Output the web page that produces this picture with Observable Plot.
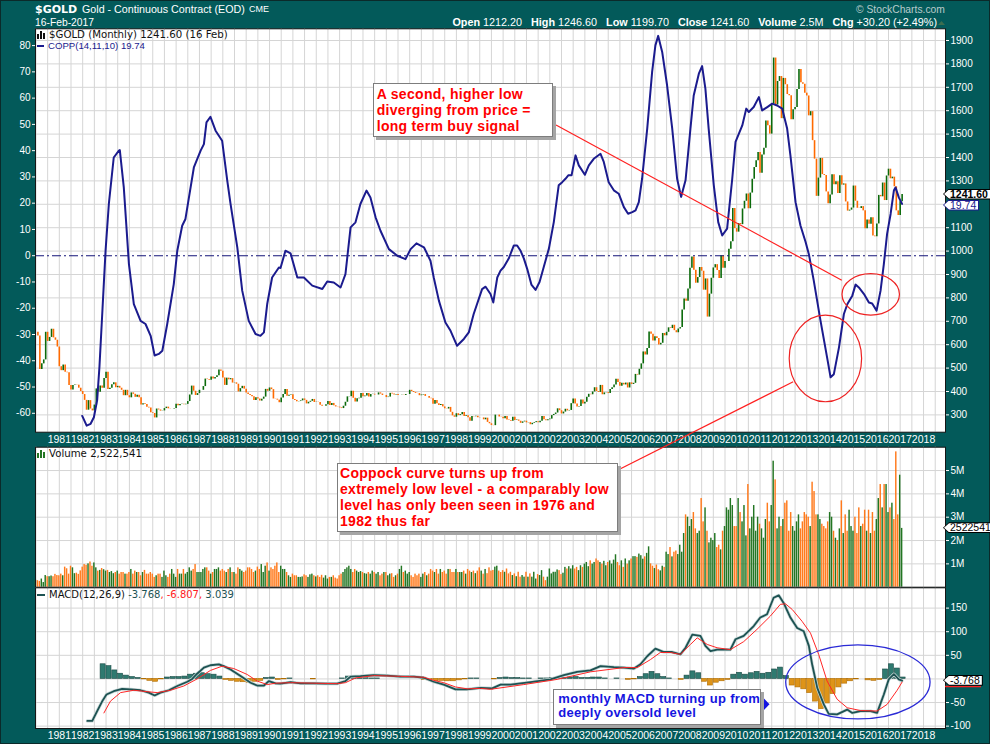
<!DOCTYPE html>
<html><head><meta charset="utf-8">
<script src="https://cdn.jsdelivr.net/npm/d3@7"></script>
<script src="https://cdn.jsdelivr.net/npm/@observablehq/plot@0.6"></script>
<style>
body{margin:0;background:#035a5a;}
#root{position:relative;width:990px;height:744px;background:#035a5a;overflow:hidden;font-family:"Liberation Sans",Arial,sans-serif;box-shadow:inset 0 0 0 1px #0b2a2a;}
#root > svg{position:absolute;left:0;top:0;}
.abs{position:absolute;white-space:nowrap;line-height:1;}
.note{position:absolute;box-sizing:border-box;background:#fff;border:1px solid #7d7d7d;box-shadow:3px 3px 0 #a5a5a5;font-weight:bold;white-space:nowrap;letter-spacing:0.3px;}
</style></head>
<body><div id="root"></div>
<script>
// ---------------- DATA ----------------
// Monthly closes of $GOLD, Jan 1980 .. Feb 2017
const closes = [
653,637,494,518,535,653,614,631,666,629,619,590,
506,489,513,482,480,426,406,426,428,427,414,400,
387,362,320,361,325,317,342,411,397,423,414,456,
482,408,414,429,437,416,422,414,405,382,405,382,
373,394,388,375,384,373,342,348,344,333,329,309,
306,287,325,321,316,317,327,333,326,325,325,327,
345,339,344,345,343,345,357,385,423,401,383,391,
405,405,421,453,451,448,462,453,460,467,492,486,
458,426,457,450,455,436,437,431,398,412,422,410,
394,387,383,378,362,373,368,359,367,376,409,401,
415,408,368,367,363,352,372,387,408,380,384,386,
366,362,356,357,360,368,362,347,354,358,366,353,
354,353,341,337,337,343,357,340,349,339,334,333,
330,327,337,354,377,378,401,371,355,369,371,391,
377,381,391,376,387,388,385,385,394,389,383,383,
374,376,392,389,385,387,383,383,384,383,387,387,
405,400,396,392,391,382,385,387,379,379,371,369,
345,362,348,340,344,334,326,325,332,311,296,290,
305,297,301,310,293,296,288,273,293,292,294,288,
287,287,279,286,268,262,255,254,299,299,291,290,
283,293,278,276,273,290,276,278,273,264,270,273,
266,267,258,264,267,271,266,273,293,279,275,279,
282,297,302,308,326,318,304,312,324,317,319,348,
368,347,334,336,364,346,354,375,388,386,398,416,
400,396,426,386,394,395,391,408,416,428,452,438,
422,435,428,436,415,437,430,435,473,470,495,518,
569,556,584,654,645,616,634,626,599,606,648,638,
653,672,669,683,660,651,667,673,748,795,786,838,
927,975,918,863,887,930,914,833,881,718,816,884,
928,942,917,883,980,927,955,955,1008,1040,1182,1096,
1081,1118,1113,1180,1213,1244,1181,1248,1307,1357,1386,1421,
1333,1411,1439,1556,1536,1500,1628,1825,1624,1725,1746,1566,
1738,1711,1669,1664,1561,1604,1614,1691,1776,1719,1713,1675,
1663,1578,1596,1472,1393,1234,1312,1396,1327,1323,1253,1202,
1240,1326,1284,1296,1246,1322,1282,1287,1210,1171,1175,1184,
1278,1213,1183,1182,1190,1172,1095,1133,1115,1142,1065,1061,
1116,1238,1232,1291,1216,1321,1350,1309,1316,1275,1172,1152,
1211.4,1241.6];
const firstMonth = 1980; // Jan 1980

// Monthly volume, millions of contracts
const volumeM = [
0.3,0.28,0.25,0.35,0.2,0.5,0.45,0.45,0.48,0.45,0.55,0.5,
0.49,0.56,0.49,0.86,0.79,0.56,0.9,0.83,0.58,0.6,0.55,0.7,
0.86,0.97,0.94,1.0,1.08,0.9,1.04,0.83,0.69,0.72,0.8,0.75,
0.69,0.72,0.63,0.67,0.58,0.63,0.69,0.56,0.63,0.63,0.56,0.56,
0.63,0.76,0.56,0.69,0.63,0.63,0.49,0.63,0.72,0.56,0.56,0.63,
0.56,0.42,0.49,0.56,0.56,0.42,0.69,0.49,0.42,0.56,0.76,0.56,
0.42,0.76,0.56,0.56,0.76,0.56,0.63,0.83,0.69,0.76,0.97,0.63,
0.63,0.63,0.76,0.83,0.83,0.69,0.56,0.63,0.76,0.76,0.83,0.69,
0.76,0.69,0.63,0.76,0.83,0.63,0.63,0.56,0.83,0.76,0.69,0.63,
0.69,0.83,0.83,0.76,0.63,0.69,0.86,0.76,0.97,0.63,0.9,1.04,
0.69,0.83,0.76,0.9,1.04,0.63,0.9,0.76,0.76,0.63,0.49,0.42,
0.56,0.49,0.49,0.42,0.42,0.44,0.53,0.49,0.42,0.53,0.56,0.49,
0.44,0.49,0.42,0.51,0.39,0.49,0.35,0.42,0.42,0.49,0.39,0.35,
0.49,0.56,0.63,0.76,0.83,0.9,0.76,0.63,0.76,0.69,0.63,0.67,
0.63,0.58,0.56,0.63,0.56,0.69,0.63,0.56,0.63,0.49,0.56,0.63,
0.63,0.49,0.56,0.58,0.42,0.49,0.56,0.76,0.9,0.63,0.69,0.56,
0.63,0.49,0.42,0.56,0.49,0.56,0.42,0.56,0.63,0.49,0.56,0.76,
0.69,0.63,0.76,0.56,0.76,0.63,0.69,0.56,0.76,0.76,0.63,0.63,
0.76,0.63,0.63,0.63,0.69,0.56,0.76,0.69,0.63,0.69,0.58,0.69,
0.83,0.69,0.56,0.76,0.58,0.83,0.69,0.72,0.86,0.9,0.69,0.63,
0.71,0.64,0.78,0.57,0.64,0.5,0.57,0.45,0.64,0.43,0.5,0.43,
0.64,0.43,0.57,0.43,0.64,0.35,0.54,0.5,0.71,0.43,0.28,0.43,
0.78,0.57,0.64,0.64,0.74,0.71,0.54,0.6,0.85,0.78,0.88,0.78,
0.92,0.78,0.85,0.71,0.92,0.85,0.99,1.06,0.88,1.13,0.99,1.06,
1.21,1.13,1.06,0.99,1.11,0.92,1.06,1.13,0.99,1.16,1.39,1.06,
0.92,1.13,0.85,1.21,0.99,1.13,1.21,1.31,1.31,1.28,1.42,1.35,
1.2,1.3,1.45,1.73,1.0,0.9,0.8,0.95,0.75,0.7,0.9,0.85,
1.5,1.4,1.7,1.3,1.5,1.55,1.4,1.8,1.5,2.3,3.1,3.0,
2.6,2.9,3.2,2.5,2.3,2.4,3.8,2.8,3.4,2.4,1.9,2.1,
2.0,2.3,1.7,1.8,1.6,2.4,2.6,3.4,3.3,3.8,3.5,2.6,
2.6,3.8,3.2,2.8,3.5,2.2,4.4,2.5,3.0,3.5,2.4,3.0,
2.7,2.5,2.1,2.9,3.6,2.8,3.5,5.4,4.6,2.5,3.0,2.6,
2.9,3.6,3.7,2.4,3.2,2.6,2.4,2.8,3.1,2.5,2.8,3.2,
3.1,3.0,2.6,4.5,4.1,3.1,3.1,2.9,2.7,2.6,2.5,2.8,
3.2,3.0,2.4,2.1,2.0,2.5,3.7,2.3,3.1,2.4,3.3,2.6,
2.4,3.0,2.3,3.4,2.6,2.7,3.3,2.4,3.3,2.3,3.2,2.4,
2.9,3.8,4.4,3.4,4.4,4.4,3.2,3.4,3.6,2.9,5.8,3.1,
4.8,2.52];

// Coppock curve COPP(14,11,10): [decimal year, value]
const coppock = [
[1981.98,-61],[1982.17,-64.7],[1982.34,-64],[1982.48,-61.5],[1982.62,-55],[1982.72,-42],[1982.85,-20],[1982.98,2],
[1983.12,19.7],[1983.33,37.4],[1983.55,40],[1983.59,40.2],[1983.76,26],[1983.98,-3.2],[1984.19,-18.4],[1984.48,-24.8],
[1984.69,-26],[1984.91,-30.5],[1985.08,-38],[1985.26,-37.4],[1985.41,-36.2],[1985.62,-26],[1985.90,-10.8],[1986.05,1.9],
[1986.26,11.4],[1986.40,14],[1986.55,22.2],[1986.76,33.6],[1987.05,40],[1987.19,42.5],[1987.30,50.8],[1987.47,52.9],
[1987.69,47.6],[1987.97,43.8],[1988.19,28.6],[1988.33,19.7],[1988.62,3.2],[1988.83,-13.3],[1989.11,-24.8],[1989.40,-29.8],
[1989.61,-30.5],[1989.76,-29.2],[1989.90,-18.4],[1990.11,-8.3],[1990.40,-4.5],[1990.47,-4.7],[1990.68,1.9],[1990.90,0.9],
[1991.19,-8.3],[1991.47,-8.3],[1991.83,-11.4],[1992.26,-12.7],[1992.47,-9.8],[1992.75,-10.2],[1993.04,-12.1],[1993.25,-7],
[1993.47,10.8],[1993.68,12.7],[1993.89,19.7],[1994.15,24.8],[1994.32,22.2],[1994.54,14.6],[1994.75,9.5],[1995.11,2.5],
[1995.47,0],[1995.82,-1.3],[1996.04,2.5],[1996.29,4.7],[1996.61,3.2],[1996.89,-1.9],[1997.03,-8.3],[1997.25,-17.1],
[1997.53,-25.4],[1997.75,-28.6],[1998.03,-34.3],[1998.32,-31.7],[1998.53,-29.2],[1998.74,-22.2],[1999.10,-12.7],[1999.25,-11.8],
[1999.46,-14.6],[1999.58,-17.8],[1999.75,-8.3],[1999.89,-5.7],[2000.03,-4.3],[2000.24,-1.1],[2000.46,3.9],[2000.60,3.9],
[2000.74,2],[2000.89,-1.1],[2001.03,-5],[2001.21,-11],[2001.39,-13],[2001.56,-10],[2001.74,-4.3],[2001.96,2.7],
[2002.17,12.8],[2002.38,26.8],[2002.53,28],[2002.67,29.3],[2002.79,30.6],[2002.93,30.6],[2003.10,38.2],[2003.24,34.4],
[2003.50,30.8],[2003.67,34.4],[2003.88,36.9],[2004.17,38.8],[2004.31,35.7],[2004.52,28],[2004.74,24.9],[2004.95,23.6],
[2005.17,18.5],[2005.35,16],[2005.53,16.6],[2005.67,17.3],[2005.81,20.4],[2005.95,29.3],[2006.17,48.4],[2006.38,70],
[2006.52,80.1],[2006.64,83.7],[2006.81,77.6],[2007.02,64.9],[2007.24,48.4],[2007.45,29.3],[2007.62,22.4],[2007.81,28.7],
[2008.02,48.4],[2008.16,61],[2008.38,69.3],[2008.52,72.2],[2008.66,63.6],[2008.80,48.4],[2009.02,26.8],[2009.21,12.8],
[2009.38,7.7],[2009.59,10.3],[2009.81,29.3],[2009.95,43.3],[2010.24,49.6],[2010.41,56],[2010.52,54.7],[2010.73,56.6],
[2010.95,60.4],[2011.09,55.3],[2011.31,56.6],[2011.52,57.9],[2011.73,57.2],[2011.95,56],[2012.16,48.4],[2012.30,38.2],
[2012.52,20.4],[2012.73,11.5],[2012.95,5.2],[2013.09,0.6],[2013.30,-9.5],[2013.59,-24.8],[2013.87,-38.7],[2014.02,-46.3],
[2014.16,-45.1],[2014.38,-34.9],[2014.59,-22.2],[2014.74,-18.4],[2014.95,-15.2],[2015.09,-11],[2015.23,-12.1],[2015.45,-14.6],
[2015.66,-17.8],[2015.80,-18.2],[2015.99,-20.9],[2016.16,-13.3],[2016.30,-3.2],[2016.44,8.3],[2016.59,15.9],[2016.73,24.8],
[2016.80,26],[2016.94,22.2],[2017.08,19.74]];

// MACD(12,26,9) line: [decimal year, value]
const macdLine = [
[1982.20,-89],[1982.41,-89],[1982.62,-68],[1982.84,-47],[1983.02,-33],[1983.33,-26],[1983.69,-21],[1984.05,-22],[1984.48,-24],
[1984.83,-29],[1985.08,-35],[1985.33,-29],[1985.69,-24],[1986.05,-15],[1986.48,-6],[1986.69,0],[1986.90,11],[1987.19,24],
[1987.47,29],[1987.83,31],[1988.04,27],[1988.33,20],[1988.76,6],[1989.19,-8],[1989.47,-14],[1989.76,-14],[1989.97,-4.5],
[1990.26,-9.5],[1990.47,-10],[1990.90,-7],[1991.33,-9.5],[1991.90,-9.5],[1992.40,-10],[1992.90,-10],[1993.25,-4.5],[1993.47,5],
[1993.89,6],[1994.46,8],[1995.04,7],[1995.61,5],[1996.18,5],[1996.61,2.5],[1997.03,-6],[1997.46,-12],[1997.96,-22],
[1998.46,-22],[1999.03,-19],[1999.53,-20],[1999.89,-12],[2000.32,-12],[2001.17,-7],[2002.03,-1],[2002.60,8],[2003.17,15],
[2003.74,18],[2004.17,27],[2004.74,25],[2005.17,24],[2005.60,22],[2005.88,31],[2006.17,48],[2006.52,64],[2006.88,57],
[2007.24,57],[2007.59,52],[2007.81,66],[2008.10,94],[2008.45,91],[2008.66,70],[2008.88,59],[2009.16,62],[2009.73,62],
[2009.95,84],[2010.30,91],[2010.73,112],[2011.01,130],[2011.30,137],[2011.58,172],[2011.80,177],[2012.01,161],[2012.30,130],
[2012.59,108],[2012.87,101],[2013.09,70],[2013.23,31],[2013.45,-19],[2013.73,-54],[2013.94,-74],[2014.30,-75],[2014.73,-65],
[2014.95,-72],[2015.30,-68],[2015.73,-68],[2016.01,-72],[2016.30,-33],[2016.51,-1],[2016.73,10],[2016.94,-1],[2017.08,-3.768]];

// MACD signal line: [decimal year, value]
const macdSignal = [
[1982.91,-72],[1983.19,-47],[1983.62,-29],[1984.19,-24],[1984.76,-27],[1985.19,-29],[1985.76,-24],[1986.33,-15],[1986.90,0],
[1987.47,18],[1987.97,27],[1988.47,22],[1989.04,9.5],[1989.47,-4.5],[1989.90,-12],[1990.26,-9],[1990.90,-8],[1991.90,-9],
[1992.90,-10],[1993.25,-8],[1993.68,2],[1994.46,7],[1995.61,5.5],[1996.61,3.5],[1997.03,-3],[1997.46,-8],[1997.96,-17],
[1998.46,-21],[1999.03,-20],[1999.46,-22],[2000.88,-12],[2002.31,-1],[2003.74,15],[2005.17,24],[2005.74,24],[2006.31,41],
[2006.73,56],[2007.16,56],[2007.59,52],[2008.02,73],[2008.31,87],[2008.74,73],[2009.16,66],[2009.73,62],[2010.30,79],
[2010.87,105],[2011.44,133],[2011.87,158],[2012.09,159],[2012.38,147],[2012.80,122],[2013.16,97],[2013.51,52],[2013.87,-4.5],
[2014.30,-43],[2014.73,-61],[2015.30,-67],[2016.01,-68],[2016.44,-54],[2016.87,-24],[2017.08,-6.807]];

// MACD histogram, one value per quarter starting Q4 1982
const histStart = 1982.75;
const histQ = [31,27,18,11,7,4,2,-1,-4,-6,-1,3,4,4,5,9,11,12,10,9,5,-2,-4,-6,-7,-8,-6,-4,2,3,-2,-1,1,0,0,0,-1,0,0,0,0,1,5,6,3,2,1,1,0,0,0,0,0,0,0,-2,-4,-5,-4,-5,-5,-3,-1,1,1,0,0,-1,2,3,2,2,1,1,0,1,1,2,3,2,3,4,2,2,3,3,1,0,1,0,-2,-1,4,10,15,10,4,1,0,-2,7,16,12,-6,-14,-8,-5,-2,9,13,9,12,15,11,13,20,24,6,-14,-18,-22,-30,-48,-64,-52,-32,-18,-10,-5,-1,0,-3,-4,-2,20,31,22,3];

// Tick values (grid) and the tick labels that are visible
const yearTicks = [1981,1982,1983,1984,1985,1986,1987,1988,1989,1990,1991,1992,1993,1994,1995,1996,1997,1998,1999,2000,2001,2002,2003,2004,2005,2006,2007,2008,2009,2010,2011,2012,2013,2014,2015,2016,2017,2018];
const priceTicks = [300,400,500,600,700,800,900,1000,1100,1200,1300,1400,1500,1600,1700,1800,1900];
const priceLabels = [300,400,500,600,700,800,900,1000,1100,1300,1400,1500,1600,1700,1800,1900]; // 1200 hidden behind value tag
const coppTicks = [-60,-50,-40,-30,-20,-10,0,10,20,30,40,50,60,70,80];
const volTicks = [1,2,3,4,5];
const macdTicks = [-100,-50,0,50,100,150];
const macdLabels = [-100,-50,50,100,150]; // 0 hidden behind value tag
const lastValues = {price:1241.60, copp:19.74, volume:2522541, macd:-3.768, signal:-6.807, hist:3.039};

// ---------------- BUILD ----------------
const W = 990, H = 744;
const FONT = "'Liberation Sans', Arial, sans-serif";
const GRID = "#d5d5d5";
const bars = closes.map((c, i) => {
  const o = i ? closes[i - 1] : c;
  const up = c >= o;
  return {t: firstMonth + i / 12, open: o, close: c, vol: volumeM[i],
          col: up ? "#0b6a0b" : "#ff6a00", vfill: up ? "#237623" : "#ff7a1c"};
});
const gridT = d3.range(1980, 2019, 0.5);
const copp = coppock.map(([t, v]) => ({t, v}));
const macd = macdLine.map(([t, v]) => ({t, v}));
const sig = macdSignal.map(([t, v]) => ({t, v}));
const hist = histQ.map((v, i) => ({t: histStart + i * 0.25, v}));

const xDom = [1979.98, 2018.94];
function make(mt, mb, yDom, marks, xAxis = false) {
  return Plot.plot({
    width: W, height: H, marginLeft: 35, marginRight: 45, marginTop: mt, marginBottom: mb,
    x: xAxis ? {domain: xDom} : {domain: xDom, axis: null},
    y: {domain: yDom},
    color: {type: "identity"},
    style: {background: "transparent", color: "#fff", fontFamily: FONT, fontSize: "10px", overflow: "visible"},
    marks
  });
}
const axOpt = {tickSize: 3, tickPadding: 2, tickFormat: d => String(d), fontSize: 10, label: null};
const root = document.getElementById("root");

// main price panel
const pricePlot = make(28.3, H - 431.7, [226, 1950], [
  Plot.frame({fill: "#fff"}),
  Plot.ruleX(gridT, {stroke: GRID}),
  Plot.ruleY(priceTicks, {stroke: GRID}),
  Plot.ruleX(bars, {x: "t", y1: "open", y2: "close", stroke: "col", strokeWidth: 1.6}),
  Plot.axisY(priceLabels, {...axOpt, anchor: "right"}),
  Plot.axisX(yearTicks, {anchor: "bottom", tickSize: 0, tickPadding: 3, tickFormat: d => String(d), fontSize: 10.5, label: null})
], true);
root.appendChild(pricePlot);

// Coppock overlay on main panel (left axis)
const coppPlot = make(28.3, H - 431.7, [-67.2, 86.4], [
  Plot.ruleY([0], {stroke: "#14147a", strokeWidth: 1.1, strokeDasharray: "9,3,2,3"}),
  Plot.line(copp, {x: "t", y: "v", stroke: "#1b1b8e", strokeWidth: 2}),
  Plot.axisY(coppTicks, {...axOpt, anchor: "left"}),
  Plot.frame({stroke: "#161616"})
]);
root.appendChild(coppPlot);

// volume panel
const volPlot = make(446.7, H - 586.7, [0, 6.0], [
  Plot.frame({fill: "#fff"}),
  Plot.ruleX(gridT, {stroke: GRID}),
  Plot.ruleY(volTicks, {stroke: GRID}),
  Plot.rectY(bars, {x1: d => d.t - 1 / 24, x2: d => d.t + 1 / 24, y: "vol", fill: "vfill", insetLeft: 0.25, insetRight: 0.25}),
  Plot.axisY(volTicks, {...axOpt, anchor: "right", tickFormat: d => d + "M"}),
  Plot.frame({stroke: "#161616"})
]);
root.appendChild(volPlot);

// MACD panel
const macdPlot = make(587.3, 16, [-105, 193], [
  Plot.frame({fill: "#fff"}),
  Plot.ruleX(gridT, {stroke: GRID}),
  Plot.ruleY(macdTicks, {stroke: GRID}),
  Plot.rectY(hist, {x1: "t", x2: d => d.t + 0.25, y: "v", insetLeft: 0.4, insetRight: 0.4,
    fill: d => d.v >= 0 ? "#2f7a70" : "#de9419", stroke: d => d.v >= 0 ? "#1a4a45" : "#b06c00", strokeWidth: 0.6}),
  Plot.line(macd, {x: "t", y: "v", stroke: "#c6d6d6", strokeWidth: 3.2}),
  Plot.line(macd, {x: "t", y: "v", stroke: "#1d5252", strokeWidth: 1.8}),
  Plot.line(sig, {x: "t", y: "v", stroke: "#ff2626", strokeWidth: 1}),
  Plot.axisY(macdLabels, {...axOpt, anchor: "right"}),
  Plot.axisX(yearTicks, {anchor: "bottom", tickSize: 0, tickPadding: 3, tickFormat: d => String(d), fontSize: 10.5, label: null}),
  Plot.frame({stroke: "#161616"})
], true);
root.appendChild(macdPlot);

// ---------------- ANNOTATIONS ----------------
const sx = coppPlot.scale("x"), sy = coppPlot.scale("y");
const mx = macdPlot.scale("x"), my = macdPlot.scale("y");
const X = v => sx.apply(v), Y = v => sy.apply(v);
const MX = v => mx.apply(v), MY = v => my.apply(v);
const ov = d3.select(root).append("svg").attr("width", W).attr("height", H);
ov.append("line").attr("x1", 556).attr("y1", 125).attr("x2", X(2014.52)).attr("y2", Y(-9.5))
  .attr("stroke", "#ff2020").attr("stroke-width", 1.2);
ov.append("line").attr("x1", X(2012.44)).attr("y1", Y(-48.2)).attr("x2", 618).attr("y2", 470)
  .attr("stroke", "#ff2020").attr("stroke-width", 1.2);
function ellipse(cxv, cyv, rt, rv, fx, fy, col, w) {
  ov.append("ellipse").attr("cx", fx(cxv)).attr("cy", fy(cyv))
    .attr("rx", Math.abs(fx(cxv + rt) - fx(cxv))).attr("ry", Math.abs(fy(cyv + rv) - fy(cyv)))
    .attr("fill", "none").attr("stroke", col).attr("stroke-width", w);
}
ellipse(2015.76, -14.9, 1.23, 7.9, X, Y, "#ee2222", 1.2);
ellipse(2013.82, -39.3, 1.55, 16.5, X, Y, "#ee2222", 1.2);
ellipse(2015.21, -7.4, 3.09, 78.4, MX, MY, "#2a2ad6", 1.3);
ov.append("polygon").attr("points", "763,697.5 769.5,704.3 763,711").attr("fill", "#1515e0");
ov.append("line").attr("x1", 945).attr("x2", 981).attr("y1", 686.5).attr("y2", 686.5).attr("stroke", "#ff2020").attr("stroke-width", 1.5);
ov.append("polygon").attr("points", "938,25 941.5,21 945,25").attr("fill", "#3d6e50");

// ---------------- TEXT ----------------
function txt(html, css) {
  const d = document.createElement("div");
  d.className = "abs"; d.innerHTML = html; Object.assign(d.style, css); root.appendChild(d); return d;
}
txt("$GOLD", {left: "35px", top: "4px", fontFamily: "'DejaVu Sans'", fontWeight: "bold", fontSize: "11px", color: "#fff"});
txt("Gold - Continuous Contract (EOD)", {left: "82px", top: "3.8px", fontSize: "10.7px", color: "#fff"});
txt("CME", {left: "249px", top: "5px", fontSize: "9px", color: "#fff"});
txt("16-Feb-2017", {left: "35px", top: "17.6px", fontSize: "10.3px", color: "#fff"});
txt("&copy; StockCharts.com", {left: "856px", top: "4.5px", fontSize: "10.3px", color: "#b9cbcb"});
txt('<b>Open</b> 1212.20&nbsp;&nbsp; <b>High</b> 1246.60&nbsp;&nbsp; <b>Low</b> 1199.70&nbsp;&nbsp; <b>Close</b> 1241.60&nbsp;&nbsp; <b>Volume</b> 2.5M&nbsp;&nbsp; <b>Chg</b> +30.20 (+2.49%)',
  {right: "53px", top: "17.4px", fontSize: "10.8px", color: "#fff"});

const icon = (col) => `<svg width="10" height="8" style="position:static;vertical-align:-1px;margin-right:2px"><rect x="0" y="3" width="2" height="5" fill="${col}"/><rect x="3" y="0" width="2" height="8" fill="${col}"/><rect x="6" y="2" width="2" height="6" fill="${col}"/></svg>`;
txt(icon("#111") + "$GOLD (Monthly) 1241.60 (16 Feb)", {left: "37px", top: "29.5px", height: "10px", fontFamily: "'DejaVu Sans'", fontSize: "10.2px", color: "#111"});
txt('<span style="display:inline-block;width:7px;height:2px;background:#1b1b8e;vertical-align:middle;margin-right:4px"></span>COPP(14,11,10) 19.74',
  {left: "37px", top: "41px", height: "9px", fontSize: "9.6px", color: "#1b1b8e"});
txt(icon("#237623") + "Volume 2,522,541", {left: "37px", top: "448.6px", height: "10px", fontFamily: "'DejaVu Sans'", fontSize: "10.2px", color: "#111"});
txt('<span style="display:inline-block;width:8px;height:2px;background:#1d5252;vertical-align:middle;margin-right:4px"></span>MACD(12,26,9) <span style="color:#1d5252">-3.768</span><span style="color:#ff2020">, -6.807,</span><span style="color:#1d5252"> 3.039</span>',
  {left: "37px", top: "590.3px", fontFamily: "'DejaVu Sans'", fontSize: "10px", color: "#111"});

function note(lines, css, font, lh, color) {
  const d = document.createElement("div");
  d.className = "note"; d.innerHTML = lines.join("<br>");
  Object.assign(d.style, css, {fontSize: font + "px", lineHeight: lh + "px", color});
  root.appendChild(d);
}
note(["A second, higher low", "diverging from price =", "long term buy signal"],
  {left: "373px", top: "83px", width: "180px", height: "54px", padding: "2px 0 0 2.7px"}, 14, 16, "#ff0000");
note(["Coppock curve turns up from", "extremely low level - a comparably low", "level has only been seen in 1976 and", "1982 thus far"],
  {left: "336.7px", top: "462.7px", width: "281px", height: "69px", padding: "1.8px 0 0 2.3px"}, 14, 16, "#ff0000");
note(["monthly MACD turning up from", "deeply oversold level"],
  {left: "553.3px", top: "689px", width: "207.4px", height: "35.7px", padding: "2.2px 0 0 4px"}, 13, 14.3, "#1515e0");

// right-axis value tags
const py = pricePlot.scale("y"), vy = volPlot.scale("y");
function tag(y, text, color, border, bold) {
  const o = document.createElement("div");
  Object.assign(o.style, {position: "absolute", left: "943px", top: (y - 5.5) + "px", height: "11px", background: border,
    clipPath: "polygon(0 50%, 6px 0, 100% 0, 100% 100%, 6px 100%)"});
  const i = document.createElement("div");
  Object.assign(i.style, {margin: "1px", height: "9px", lineHeight: "9px", background: "#fff", padding: "0 2px 0 6px",
    fontSize: "10.5px", fontWeight: bold ? "bold" : "normal", color, fontFamily: FONT, whiteSpace: "nowrap",
    clipPath: "polygon(0 50%, 5px 0, 100% 0, 100% 100%, 5px 100%)"});
  i.textContent = text; o.appendChild(i); root.appendChild(o);
}
const pY = py.apply(lastValues.price);
tag(pY, "1241.60", "#000", "#000", true);
tag(Math.max(Y(lastValues.copp), pY + 11), "19.74", "#1b1b8e", "#1b1b8e", false);
tag(vy.apply(lastValues.volume / 1e6), "2522541", "#000", "#000", false);
tag(my.apply(lastValues.macd), "-3.768", "#000", "#000", false);
</script>
</body></html>
